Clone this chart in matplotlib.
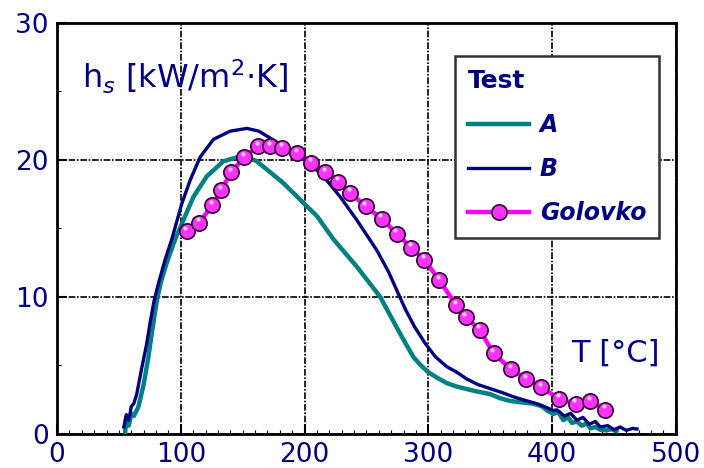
import numpy as np
from matplotlib import pyplot as plt
from matplotlib.ticker import MultipleLocator

# test A (teal)
tA = [55, 56, 58, 60, 62, 65.7, 70, 73.8, 77, 80.6, 84, 88.7, 95.4, 102.1, 110.2, 121, 134.4,
      147.9, 155, 161.4, 169.5, 183, 196.4, 210, 223.4, 242.3, 261.1, 277.3, 288, 294,
      300, 307, 315, 323, 336.5, 350, 358, 366.2, 375, 385, 392, 396, 401, 405, 409, 413, 416, 420,
      424, 428, 431, 435, 439, 444, 448, 452]
hA = [0.0, 1.2, 0.6, 1.5, 1.3, 1.95, 3.6, 5.6, 7.6, 9.7, 11.1, 12.5, 14.2, 15.6, 17.3, 18.8, 19.9,
      20.25, 20.15, 19.9, 19.3, 18.3, 17.1, 15.9, 14.2, 12.2, 10.0, 7.3, 5.6, 5.0,
      4.5, 4.1, 3.7, 3.45, 3.15, 2.9, 2.6, 2.4, 2.3, 2.2, 2.0, 1.7, 1.45, 1.6, 1.0, 1.2, 0.8, 0.9,
      0.6, 0.75, 0.4, 0.5, 0.3, 0.25, 0.35, 0.2]

# test B (navy)
tB = [54, 56, 58, 60, 62, 64.4, 68, 72.5, 75, 78.4, 82, 87.3, 92.7, 100.8, 107.5, 115.6, 126.4,
      139.9, 153.4, 163, 172.2, 185.7, 200.5, 215.3, 228.8, 242.3, 258.4, 268, 275.9, 282,
      289, 297.5, 306, 315, 323, 331.2, 340, 350, 360, 368.9, 378, 387.8, 396, 401, 404, 410, 415,
      420, 425, 430, 435, 439, 445, 450, 455, 460, 465, 468.6]
hB = [0.5, 1.4, 1.0, 2.0, 2.2, 2.9, 4.6, 6.6, 8.0, 9.7, 11.0, 12.7, 14.2, 16.8, 18.5, 20.2, 21.5,
      22.1, 22.3, 22.1, 21.6, 20.85, 20.0, 18.8, 17.3, 15.6, 13.4, 11.8, 10.2, 9.0,
      7.8, 6.6, 5.6, 4.9, 4.5, 4.0, 3.6, 3.3, 3.0, 2.7, 2.45, 2.2, 1.9, 1.7, 1.75, 1.3, 1.5,
      1.0, 1.2, 0.7, 0.9, 0.5, 0.6, 0.3, 0.5, 0.25, 0.4, 0.35]

# Golovko correlation
tG = [104.8, 114.8, 125.6, 132.8, 140.7, 151.4, 162.7, 172.2, 181.9, 194, 205.3, 216.7, 227.4, 236.9,
      249.5, 262.5, 274.6, 286.2, 296.9, 309, 322.6, 330.4, 341.4, 352.7, 366.8, 379.2, 391.3,
      405.8, 419, 430.9, 443]
hG = [14.8, 15.4, 16.7, 17.8, 19.1, 20.2, 21.0, 21.0, 20.9, 20.5, 19.8, 19.1, 18.4, 17.6,
      16.6, 15.7, 14.6, 13.6, 12.7, 11.2, 9.4, 8.5, 7.6, 5.9, 4.7, 4.0, 3.4,
      2.55, 2.2, 2.4, 1.75]

navy = '#000080'

fig = plt.figure(figsize=(7.04, 4.68), dpi=100)
ax = fig.add_axes([0.081, 0.073, 0.879, 0.878])

ax.plot(tA, hA, color='#008080', lw=3.2, label='A', zorder=3)
ax.plot(tB, hB, color='#000080', lw=2.4, label='B', zorder=4)
ax.plot(tG, hG, color='#ff00ff', lw=3.2, marker='o', ms=11, mfc='#ff33ff',
        mec='#300030', mew=1.2, label='Golovko', zorder=5)
# little highlight on the balls
ax.plot(np.array(tG) - 1.2, np.array(hG) + 0.25, ls='none', marker='o', ms=3,
        mfc='#ffccff', mec='none', zorder=6)

ax.set_xlim(0, 500)
ax.set_ylim(0, 30)
ax.set_xticks([0, 100, 200, 300, 400, 500])
ax.set_yticks([0, 10, 20, 30])
ax.xaxis.set_minor_locator(MultipleLocator(10))
ax.yaxis.set_minor_locator(MultipleLocator(5))
ax.tick_params(which='both', direction='in', colors='black', labelcolor=navy,
               labelsize=19, top=False, right=False)
ax.tick_params(which='major', length=7, width=1.5, pad=6)
ax.tick_params(which='minor', length=3, width=0.8)

ax.grid(True, which='major', color='black', lw=1.2, ls=(0, (4, 1, 1, 1)))
for s in ax.spines.values():
    s.set_linewidth(2)

ax.text(0.04, 0.84, r'h$_s$ [kW/m$^2$$\cdot$K]', transform=ax.transAxes,
        fontsize=23, color=navy)
ax.text(0.83, 0.197, 'T [°C]', transform=ax.transAxes, fontsize=22, color=navy,
        va='center')

leg = ax.legend(title='Test', loc='upper left', bbox_to_anchor=(0.643, 0.92),
                borderaxespad=0, fancybox=False, framealpha=1, edgecolor='#333333',
                handlelength=2.6, prop={'size': 17, 'weight': 'bold', 'style': 'italic'},
                labelcolor=navy, alignment='left', borderpad=0.55, labelspacing=0.85,
                handletextpad=0.45)
leg.get_title().set_fontsize(18)
leg.get_title().set_fontweight('bold')
leg.get_title().set_color(navy)
leg.get_frame().set_linewidth(1.8)
leg.set_zorder(10)

fig.savefig('out.png', dpi=100)
